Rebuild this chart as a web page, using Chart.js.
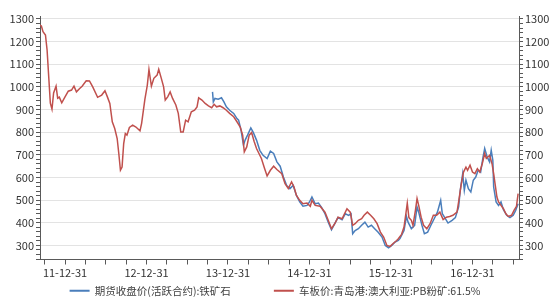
<!DOCTYPE html>
<html>
<head>
<meta charset="utf-8">
<script src="https://cdn.jsdelivr.net/npm/chart.js@4"></script>
<style>
    html, body { margin: 0; padding: 0; background: #fff; }
    #wrap { width: 550px; height: 300px; }
</style>
</head>
<body>
<div id="wrap"><canvas id="oreChart"></canvas></div>
<script>
// даты в долях года (2012.00 = 11-12-31)
const blueDates = [2013.81, 2013.82, 2013.84, 2013.88, 2013.92, 2013.95, 2013.98, 2014.02, 2014.07, 2014.11,
    2014.13, 2014.16, 2014.19, 2014.21, 2014.24, 2014.28, 2014.31, 2014.35, 2014.39, 2014.43,
    2014.48, 2014.52, 2014.56, 2014.60, 2014.64, 2014.68, 2014.72, 2014.76, 2014.80, 2014.84,
    2014.88, 2014.92, 2014.97, 2015.00, 2015.03, 2015.07, 2015.11, 2015.15, 2015.19, 2015.23,
    2015.27, 2015.31, 2015.35, 2015.40, 2015.44, 2015.48, 2015.51, 2015.53, 2015.56, 2015.60,
    2015.64, 2015.68, 2015.72, 2015.76, 2015.80, 2015.84, 2015.89, 2015.93, 2015.97, 2016.01,
    2016.05, 2016.09, 2016.11, 2016.16, 2016.19, 2016.21, 2016.25, 2016.29, 2016.32, 2016.34,
    2016.38, 2016.41, 2016.45, 2016.49, 2016.53, 2016.57, 2016.61, 2016.63, 2016.66, 2016.70,
    2016.75, 2016.79, 2016.83, 2016.85, 2016.88, 2016.90, 2016.92, 2016.95, 2016.98, 2017.01,
    2017.04, 2017.07, 2017.10, 2017.13, 2017.15, 2017.18, 2017.21, 2017.23, 2017.25, 2017.26,
    2017.29, 2017.32, 2017.35, 2017.38, 2017.42, 2017.46, 2017.50, 2017.53, 2017.56];
const blueValues = [978, 934, 949, 946, 952, 934, 912, 897, 883, 860,
    853, 809, 743, 765, 787, 819, 799, 765, 720, 698,
    684, 716, 706, 669, 650, 602, 565, 551, 565, 521,
    492, 473, 477, 492, 514, 484, 487, 467, 440, 403,
    369, 396, 423, 414, 440, 433, 440, 352, 366, 374,
    389, 403, 381, 389, 374, 359, 337, 300, 290, 300,
    315, 322, 330, 366, 428, 403, 374, 389, 470, 447,
    389, 352, 359, 389, 418, 447, 499, 440, 423, 399,
    411, 423, 470, 543, 617, 543, 588, 551, 536, 588,
    602, 632, 624, 691, 728, 691, 669, 720, 676, 558,
    492, 477, 492, 458, 433, 423, 433, 455, 484];

const redDates = [2011.69, 2011.71, 2011.73, 2011.76, 2011.78, 2011.80, 2011.82, 2011.84, 2011.86, 2011.89,
    2011.91, 2011.93, 2011.96, 2012.00, 2012.04, 2012.08, 2012.11, 2012.14, 2012.18, 2012.21,
    2012.26, 2012.30, 2012.34, 2012.40, 2012.45, 2012.49, 2012.52, 2012.55, 2012.58, 2012.61,
    2012.64, 2012.66, 2012.68, 2012.70, 2012.72, 2012.74, 2012.76, 2012.79, 2012.83, 2012.87,
    2012.92, 2012.94, 2012.98, 2013.01, 2013.03, 2013.06, 2013.09, 2013.13, 2013.15, 2013.18,
    2013.21, 2013.23, 2013.26, 2013.29, 2013.32, 2013.36, 2013.39, 2013.42, 2013.45, 2013.48,
    2013.51, 2013.55, 2013.59, 2013.62, 2013.64, 2013.68, 2013.72, 2013.76, 2013.80, 2013.83,
    2013.86, 2013.90, 2013.94, 2013.98, 2014.02, 2014.07, 2014.11, 2014.15, 2014.18, 2014.20,
    2014.23, 2014.26, 2014.29, 2014.32, 2014.35, 2014.38, 2014.41, 2014.45, 2014.48, 2014.52,
    2014.56, 2014.60, 2014.66, 2014.70, 2014.74, 2014.78, 2014.81, 2014.84, 2014.88, 2014.92,
    2014.97, 2015.01, 2015.03, 2015.07, 2015.13, 2015.19, 2015.23, 2015.27, 2015.31, 2015.35,
    2015.40, 2015.44, 2015.46, 2015.50, 2015.53, 2015.56, 2015.60, 2015.64, 2015.67, 2015.71,
    2015.75, 2015.79, 2015.83, 2015.87, 2015.91, 2015.95, 2015.99, 2016.03, 2016.07, 2016.09,
    2016.13, 2016.16, 2016.18, 2016.20, 2016.22, 2016.25, 2016.27, 2016.30, 2016.32, 2016.34,
    2016.37, 2016.40, 2016.44, 2016.48, 2016.52, 2016.56, 2016.60, 2016.64, 2016.68, 2016.72,
    2016.76, 2016.81, 2016.83, 2016.86, 2016.89, 2016.92, 2016.94, 2016.97, 2017.00, 2017.03,
    2017.06, 2017.09, 2017.12, 2017.15, 2017.17, 2017.21, 2017.24, 2017.26, 2017.28, 2017.30,
    2017.32, 2017.35, 2017.38, 2017.41, 2017.44, 2017.48, 2017.51, 2017.54, 2017.56];
const redValues = [1273, 1269, 1244, 1229, 1163, 1045, 928, 902, 973, 1003,
    950, 955, 930, 956, 981, 986, 1003, 978, 993, 1003,
    1027, 1026, 1000, 954, 964, 983, 956, 927, 846, 816,
    772, 706, 632, 646, 750, 794, 787, 821, 831, 823,
    806, 839, 945, 1008, 1077, 1003, 1038, 1052, 1078, 1040,
    1000, 942, 956, 978, 949, 920, 883, 801, 801, 853,
    846, 890, 897, 912, 952, 942, 927, 916, 908, 923,
    912, 916, 908, 897, 883, 868, 846, 823, 787, 713,
    735, 787, 799, 760, 728, 706, 684, 639, 607, 632,
    650, 635, 617, 573, 551, 580, 558, 521, 499, 484,
    487, 473, 499, 477, 473, 447, 411, 374, 396, 425,
    418, 447, 462, 447, 389, 396, 411, 418, 433, 447,
    433, 418, 396, 359, 337, 300, 296, 310, 322, 330,
    349, 381, 433, 487, 423, 411, 389, 455, 507, 477,
    425, 389, 374, 396, 433, 433, 447, 414, 425, 428,
    433, 447, 492, 565, 624, 646, 632, 654, 624, 617,
    639, 624, 661, 706, 684, 698, 661, 617, 565, 514,
    492, 477, 462, 440, 428, 433, 455, 473, 529];

const seriesNames = ["期货收盘价(活跃合约):铁矿石", "车板价:青岛港:澳大利亚:PB粉矿:61.5%"];
const yearTicks = [2012, 2013, 2014, 2015, 2016, 2017];
const yearLabels = ["11-12-31", "12-12-31", "13-12-31", "14-12-31", "15-12-31", "16-12-31"];

const FONT = "'Noto Sans CJK SC', 'Noto Sans', sans-serif";
const AXIS = "#595959";

function toPoints(xs, ys) {
    return xs.map((x, i) => ({x: x, y: ys[i]}));
}

// ось Y: мелкие деления через 20, подписи через 100
function yTicks(scale) {
    const ticks = [];
    for (let v = 240; v <= 1300; v += 20) ticks.push({value: v});
    scale.ticks = ticks;
}

function yAxis(position) {
    return {
        type: "linear",
        position: position,
        min: 238,
        max: 1313,
        afterBuildTicks: yTicks,
        afterFit: s => { s.width = position === "left" ? 40 : 31; },
        border: {display: true, color: AXIS, width: 1},
        grid: {
            drawOnChartArea: position === "left",
            color: c => (c.tick && c.tick.value % 100 === 0) ? "#e3e3e3" : "rgba(0,0,0,0)",
            tickColor: AXIS,
            tickLength: 4
        },
        ticks: {
            autoSkip: false,
            padding: 2,
            color: "#333",
            font: {family: FONT, size: 11},
            callback: v => v % 100 === 0 ? String(v) : ""
        }
    };
}

new Chart(document.getElementById("oreChart"), {
    type: "line",
    data: {
        datasets: [{
            label: seriesNames[0],
            data: toPoints(blueDates, blueValues),
            borderColor: "#4a7ebb",
            borderWidth: 1.5,
            pointRadius: 0,
            tension: 0,
            order: 1
        }, {
            label: seriesNames[1],
            data: toPoints(redDates, redValues),
            borderColor: "#c0504d",
            borderWidth: 1.5,
            pointRadius: 0,
            tension: 0,
            order: 0
        }]
    },
    options: {
        responsive: true,
        maintainAspectRatio: false,
        animation: false,
        layout: {padding: {top: 16, left: 0, right: 0, bottom: -6}},
        scales: {
            x: {
                type: "linear",
                min: 2011.693,
                max: 2017.571,
                afterBuildTicks: scale => {
                    const ticks = [];
                    for (let k = 0; k < 24; k++) ticks.push({value: 2011.75 + k * 0.25});
                    scale.ticks = ticks;
                },
                afterFit: s => { s.height = 25; },
                border: {display: true, color: AXIS, width: 1},
                grid: {drawOnChartArea: false, tickColor: AXIS, tickLength: 5},
                ticks: {
                    autoSkip: false,
                    maxRotation: 0,
                    padding: 2,
                    color: "#333",
                    font: {family: FONT, size: 11},
                    callback: v => {
                        const i = yearTicks.findIndex(y => Math.abs(y - v) < 1e-6);
                        return i >= 0 ? yearLabels[i] : "";
                    }
                }
            },
            y: yAxis("left"),
            y2: yAxis("right")
        },
        plugins: {
            tooltip: {enabled: false},
            legend: {
                position: "bottom",
                labels: {
                    usePointStyle: true,
                    pointStyle: "line",
                    pointStyleWidth: 20,
                    boxHeight: 2,
                    padding: 1,
                    color: "#404040",
                    font: {family: FONT, size: 10.5},
                    sort: (a, b) => a.datasetIndex - b.datasetIndex,
                    generateLabels: chart => {
                        const items = Chart.defaults.plugins.legend.labels.generateLabels(chart);
                        items.forEach(it => {
                            it.lineWidth = 2;
                            // промежуток между элементами легенды
                            if (it.datasetIndex === 0) it.text = it.text + "\u3000\u3000\u3000\u3000";
                        });
                        return items;
                    }
                }
            }
        }
    }
});
</script>
</body>
</html>
